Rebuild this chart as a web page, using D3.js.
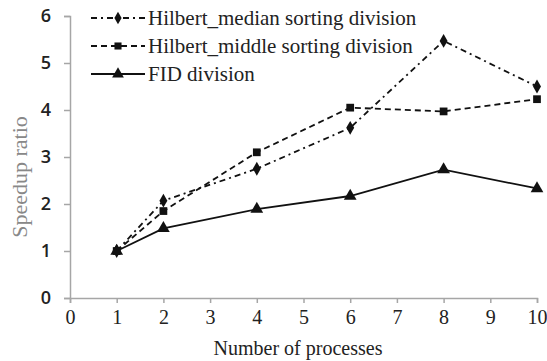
<!DOCTYPE html>
<html><head><meta charset="utf-8">
<script src="https://cdn.jsdelivr.net/npm/d3@7"></script>
<style>body{margin:0;background:#fff}</style>
</head><body>
<svg id="c" width="547" height="361"></svg>
<script>
const processes = [1, 2, 4, 6, 8, 10];
const medianVals = [1.0, 2.07, 2.75, 3.62, 5.47, 4.5];
const middleVals = [1.0, 1.85, 3.1, 4.05, 3.97, 4.23];
const fidVals = [1.0, 1.48, 1.89, 2.17, 2.73, 2.33];
const seriesNames = ["Hilbert_median sorting division", "Hilbert_middle sorting division", "FID division"];
const xTicks = [0,1,2,3,4,5,6,7,8,9,10];
const yTicks = [0,1,2,3,4,5,6];

const SERIF = '"Liberation Serif"';
const SANS = '"Open Sans"';

const svg = d3.select("#c");
const x = d3.scaleLinear().domain([0,10]).range([70,537]);
const y = d3.scaleLinear().domain([0,6]).range([298,16]);
const axisColor = "#a6a6a6";

const ya = svg.append("g").attr("transform","translate(70,0)")
  .call(d3.axisLeft(y).tickValues(yTicks).tickSize(6).tickPadding(13).tickFormat(d3.format("d")));
ya.select(".domain").attr("stroke",axisColor).attr("stroke-width",1.5);
ya.selectAll(".tick line").attr("stroke",axisColor).attr("stroke-width",1.5);
ya.selectAll(".tick text").style("font-family",SANS).style("font-size","18px").style("font-weight","600").attr("fill","#222");

const xa = svg.append("g").attr("transform","translate(0,298)")
  .call(d3.axisBottom(x).tickValues(xTicks).tickSize(5).tickPadding(7).tickFormat(d3.format("d")));
xa.select(".domain").attr("stroke",axisColor).attr("stroke-width",1.5);
xa.selectAll(".tick line").attr("stroke",axisColor).attr("stroke-width",1.5);
xa.selectAll(".tick text").style("font-family",SERIF).style("font-size","20px").attr("fill","#222");

svg.append("text").attr("x",298).attr("y",355).attr("text-anchor","middle")
  .style("font-family",SERIF).style("font-size","20px").attr("fill","#222").text("Number of processes");
svg.append("text").attr("transform","translate(27,177) rotate(-90)").attr("text-anchor","middle")
  .style("font-family",SERIF).style("font-size","22px").attr("fill","#888").text("Speedup ratio");

const data = [medianVals, middleVals, fidVals];
const dashes = ["6,4,2,4", "6,4", null];
const symbols = [d3.symbolDiamond, d3.symbolSquare, d3.symbolTriangle];
const symSizes = [55, 60, 70];

const line = d3.line().x((d,i)=>x(processes[i])).y(d=>y(d));

data.forEach((vals,k)=>{
  svg.append("path").datum(vals).attr("d",line).attr("fill","none")
    .attr("stroke","#111").attr("stroke-width",1.8)
    .attr("stroke-dasharray",dashes[k]);
  svg.append("g").selectAll("path").data(vals).join("path")
    .attr("transform",(d,i)=>`translate(${x(processes[i])},${y(d)})`)
    .attr("d",d3.symbol().type(symbols[k]).size(symSizes[k])).attr("fill","#111");
});

const ly = [18, 46, 74];
seriesNames.forEach((name,k)=>{
  const g = svg.append("g").attr("transform",`translate(0,${ly[k]})`);
  g.append("line").attr("x1",91).attr("x2",145).attr("y1",0).attr("y2",0)
    .attr("stroke","#111").attr("stroke-width",1.8).attr("stroke-dasharray",dashes[k]);
  g.append("path").attr("transform","translate(118,0)")
    .attr("d",d3.symbol().type(symbols[k]).size(symSizes[k]-10)).attr("fill","#111");
  g.append("text").attr("x",148).attr("y",7)
    .style("font-family",SERIF).style("font-size","21px").attr("fill","#222").text(name);
});
</script>
</body></html>
